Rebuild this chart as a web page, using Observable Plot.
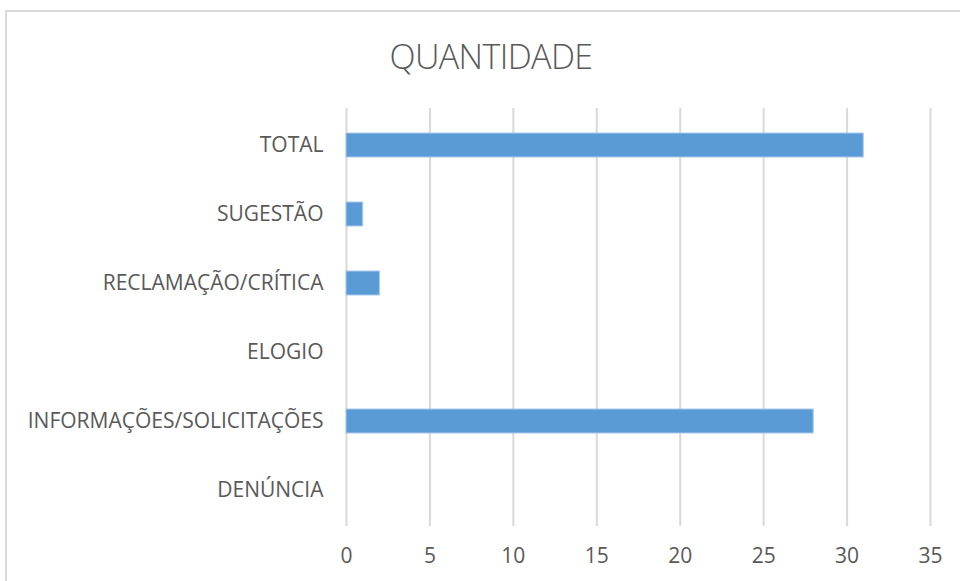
<!DOCTYPE html>
<html>
<head>
<meta charset="utf-8">
<script src="https://cdn.jsdelivr.net/npm/d3@7"></script>
<script src="https://cdn.jsdelivr.net/npm/@observablehq/plot@0.6"></script>
<style>
  html, body { margin: 0; padding: 0; background: #fff; overflow: hidden; }
  #wrap { position: relative; width: 960px; height: 581px; overflow: hidden; }
  #frame { position: absolute; left: 5px; top: 10px; width: 1000px; height: 700px; border: 2px solid #d9d9d9; box-sizing: border-box; }
  #title { position: absolute; left: 0; top: 33px; width: 982px; text-align: center; font-family: "Open Sans", sans-serif; font-weight: 300; font-size: 34px; color: #595959; letter-spacing: -0.6px; }
  #chart { position: absolute; left: 0; top: 0; }
</style>
</head>
<body>
<div id="wrap">
  <div id="frame"></div>
  <div id="title">QUANTIDADE</div>
  <div id="chart"></div>
</div>
<script>
const categories = ["TOTAL", "SUGESTÃO", "RECLAMAÇÃO/CRÍTICA", "ELOGIO", "INFORMAÇÕES/SOLICITAÇÕES", "DENÚNCIA"];
const values = [31, 1, 2, 0, 28, 0];
const xTicks = [0, 5, 10, 15, 20, 25, 30, 35];

const data = categories.map((c, i) => ({category: c, value: values[i]}));

const chart = Plot.plot({
  width: 960,
  height: 581,
  marginLeft: 346,
  marginRight: 30,
  marginTop: 108,
  marginBottom: 55,
  style: { fontFamily: "'Open Sans', sans-serif", fontSize: "21px", color: "#595959", background: "transparent", overflow: "visible" },
  x: { domain: [0, 35], ticks: xTicks, label: null },
  y: { domain: categories, paddingInner: 0.656, paddingOuter: 0.328, label: null },
  marks: [
    Plot.gridX(xTicks, { stroke: "#d9d9d9", strokeOpacity: 1, strokeWidth: 2 }),
    Plot.axisX({ ticks: xTicks, tickSize: 0, tickPadding: 22, fill: "#595959", label: null }),
    Plot.axisY({ tickSize: 0, tickPadding: 23, fill: "#595959", label: null }),
    Plot.barX(data, { x: "value", y: "category", fill: "#5b9bd5", stroke: "#a9c9ec", strokeWidth: 1, inset: 0, filter: d => d.value > 0 })
  ]
});
document.getElementById("chart").appendChild(chart);
</script>
</body>
</html>
